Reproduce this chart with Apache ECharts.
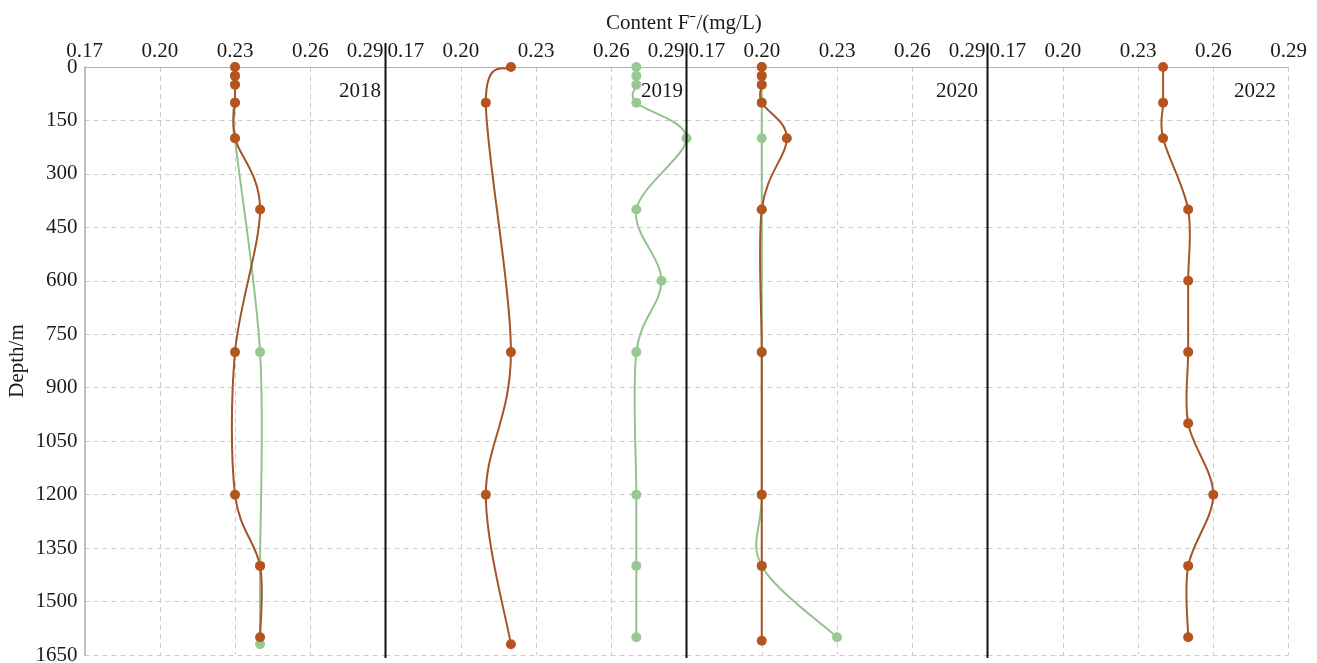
<!DOCTYPE html>
<html>
<head>
<meta charset="utf-8">
<script src="https://cdn.jsdelivr.net/npm/echarts@6/dist/echarts.min.js"></script>
<style>
html,body{margin:0;padding:0;background:#fff;}
#chart{width:1317px;height:663px;}
</style>
</head>
<body>
<div id="chart"></div>
<script>
// ---- data ----
const years = ['2018', '2019', '2020', '2022'];
const xTicks = [0.17, 0.20, 0.23, 0.26, 0.29];
const depthTicks = [0, 150, 300, 450, 600, 750, 900, 1050, 1200, 1350, 1500, 1650];

const brown2018Depth = [0, 25, 50, 100, 200, 400, 800, 1200, 1400, 1600];
const brown2018Value = [0.23, 0.23, 0.23, 0.23, 0.23, 0.24, 0.23, 0.23, 0.24, 0.24];
const green2018Depth = [0, 25, 50, 100, 200, 800, 1400, 1620];
const green2018Value = [0.23, 0.23, 0.23, 0.23, 0.23, 0.24, 0.24, 0.24];

const brown2019Depth = [0, 100, 800, 1200, 1620];
const brown2019Value = [0.22, 0.21, 0.22, 0.21, 0.22];
const green2019Depth = [0, 25, 50, 100, 200, 400, 600, 800, 1200, 1400, 1600];
const green2019Value = [0.27, 0.27, 0.27, 0.27, 0.29, 0.27, 0.28, 0.27, 0.27, 0.27, 0.27];

const brown2020Depth = [0, 25, 50, 100, 200, 400, 800, 1200, 1400, 1610];
const brown2020Value = [0.20, 0.20, 0.20, 0.20, 0.21, 0.20, 0.20, 0.20, 0.20, 0.20];
const green2020Depth = [0, 25, 50, 100, 200, 400, 800, 1200, 1400, 1600];
const green2020Value = [0.20, 0.20, 0.20, 0.20, 0.20, 0.20, 0.20, 0.20, 0.20, 0.23];

const brown2022Depth = [0, 100, 200, 400, 600, 800, 1000, 1200, 1400, 1600];
const brown2022Value = [0.24, 0.24, 0.24, 0.25, 0.25, 0.25, 0.25, 0.26, 0.25, 0.25];

// ---- build ----
const FONT = '"Liberation Serif", "Times New Roman", serif';
const TXT = '#1a1a1a';
const BROWN = '#b5541f', BROWN_LINE = '#a4532a';
const GREEN = '#98c993', GREEN_LINE = '#93c28d';

const panels = [
  { brown: [brown2018Value, brown2018Depth], green: [green2018Value, green2018Depth] },
  { brown: [brown2019Value, brown2019Depth], green: [green2019Value, green2019Depth] },
  { brown: [brown2020Value, brown2020Depth], green: [green2020Value, green2020Depth] },
  { brown: [brown2022Value, brown2022Depth], green: null }
];

const gridLeft0 = 84.5, gridW = 301, gridTop = 67, gridH = 588;
const zip = (v, d) => v.map((x, i) => [x, d[i]]);

// Catmull-Rom style smooth curve, drawn through the axis scales (api.coord)
function smoothCurve(points, color, z) {
  return {
    type: 'custom', coordinateSystem: 'cartesian2d', z: z, silent: true,
    data: points,
    renderItem: function (params, api) {
      if (params.dataIndex !== 0) return null;
      const p = points.map(d => api.coord(d));
      let d = 'M' + p[0][0] + ' ' + p[0][1];
      for (let i = 0; i < p.length - 1; i++) {
        const p0 = p[Math.max(i - 1, 0)], p1 = p[i], p2 = p[i + 1], p3 = p[Math.min(i + 2, p.length - 1)];
        const c1x = p1[0] + (p2[0] - p0[0]) / 6, c1y = p1[1] + (p2[1] - p0[1]) / 6;
        const c2x = p2[0] - (p3[0] - p1[0]) / 6, c2y = p2[1] - (p3[1] - p1[1]) / 6;
        d += ' C' + c1x + ' ' + c1y + ' ' + c2x + ' ' + c2y + ' ' + p2[0] + ' ' + p2[1];
      }
      return {
        type: 'path', shape: { pathData: d },
        style: { stroke: color, fill: null, lineWidth: 2 }
      };
    }
  };
}
function markers(points, color, z) {
  return {
    type: 'scatter', data: points, symbol: 'circle', symbolSize: 10,
    itemStyle: { color: color, opacity: 1 }, z: z, silent: true
  };
}

const grids = [], xAxes = [], yAxes = [], series = [], graphics = [];
panels.forEach((p, i) => {
  const left = gridLeft0 + i * gridW;
  grids.push({ left: left, top: gridTop, width: gridW, height: gridH, containLabel: false, outerBoundsMode: 'none' });
  xAxes.push({
    gridIndex: i, type: 'value', position: 'top',
    min: xTicks[0], max: xTicks[xTicks.length - 1], interval: 0.03,
    axisLine: { show: true, lineStyle: { color: '#b0b0b0', width: 1 } },
    axisTick: { show: false },
    axisLabel: {
      fontFamily: FONT, fontSize: 21, color: TXT, margin: 5,
      formatter: v => v.toFixed(2),
      alignMinLabel: i === 0 ? 'center' : 'left',
      alignMaxLabel: i === 3 ? 'center' : 'right',
      padding: [0, 2, 0, 2]
    },
    splitLine: { show: true, lineStyle: { type: [5, 4], color: '#cccccc', width: 1 } }
  });
  yAxes.push({
    gridIndex: i, type: 'value', inverse: true,
    min: 0, max: depthTicks[depthTicks.length - 1], interval: 150,
    name: i === 0 ? 'Depth/m' : '',
    nameLocation: 'middle', nameGap: 57, nameRotate: 90,
    nameTextStyle: { fontFamily: FONT, fontSize: 21, color: TXT },
    axisLine: { show: i === 0, lineStyle: { color: '#b0b0b0', width: 1.5 } },
    axisTick: { show: false },
    axisLabel: { show: i === 0, fontFamily: FONT, fontSize: 21, color: TXT, margin: 7, formatter: v => String(v) },
    splitLine: { show: true, lineStyle: { type: [5, 4], color: '#cccccc', width: 1 } }
  });
  const series4 = [];
  if (p.green) {
    const g = zip(p.green[0], p.green[1]);
    series4.push(smoothCurve(g, GREEN_LINE, 2), markers(g, GREEN, 3));
  }
  const b = zip(p.brown[0], p.brown[1]);
  series4.push(smoothCurve(b, BROWN_LINE, 4), markers(b, BROWN, 5));
  series4.forEach(s => { s.xAxisIndex = i; s.yAxisIndex = i; series.push(s); });
  if (i > 0) {
    graphics.push({
      type: 'line', shape: { x1: left, y1: 43, x2: left, y2: 658 },
      style: { stroke: '#111', lineWidth: 2 }, z: 10
    });
  }
});

const yearRights = [936, 634, 339, 41];
const titles = [{
  text: 'Content F\u207B/(mg/L)', left: 606, top: 13, padding: 0,
  textStyle: { fontFamily: FONT, fontSize: 21, fontWeight: 'normal', color: TXT }
}];
years.forEach((y, i) => titles.push({
  text: y, right: yearRights[i], top: 81, padding: 0,
  textStyle: { fontFamily: FONT, fontSize: 21, fontWeight: 'normal', color: TXT }
}));

const chart = echarts.init(document.getElementById('chart'), null, { renderer: 'canvas' });
chart.setOption({
  backgroundColor: '#fff',
  animation: false,
  title: titles,
  grid: grids,
  xAxis: xAxes,
  yAxis: yAxes,
  series: series,
  graphic: graphics
});
</script>
</body>
</html>
